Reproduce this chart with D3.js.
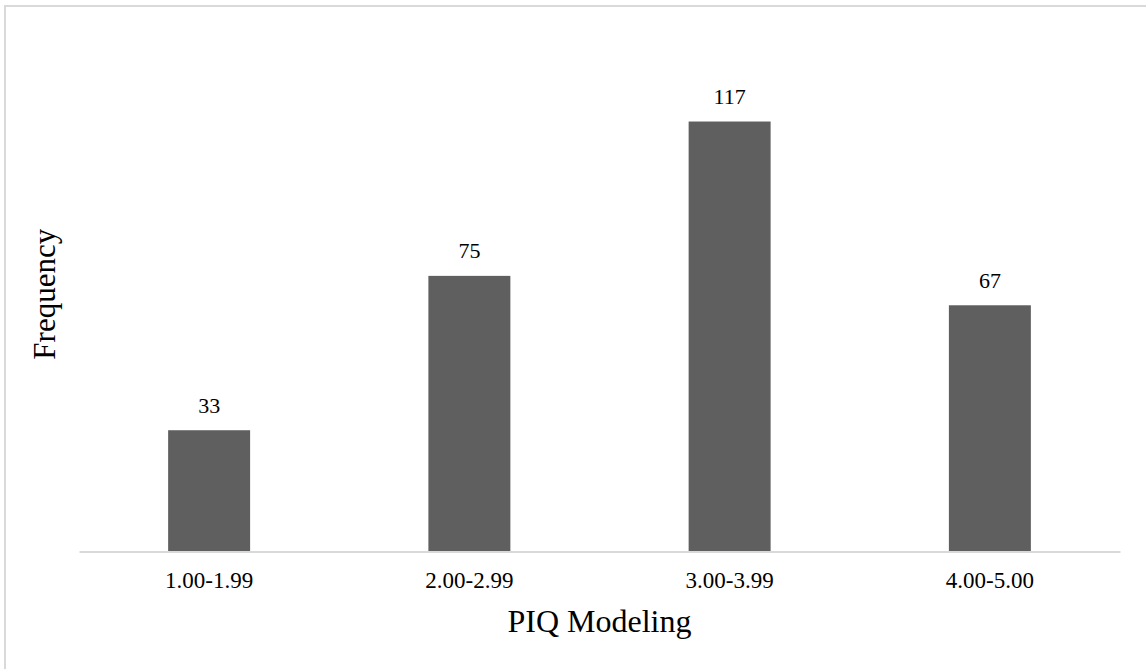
<!DOCTYPE html>
<html>
<head>
<meta charset="utf-8">
<script src="https://cdn.jsdelivr.net/npm/d3@7"></script>
<style>
  html, body { margin: 0; padding: 0; background: #fff; }
  svg { display: block; }
  text { font-family: "Liberation Serif", "Times New Roman", serif; fill: #000; }
</style>
</head>
<body>
<svg id="chart" width="1146" height="669"></svg>
<script>
// Frequency of PIQ Modeling scores by range
const categories = ["1.00-1.99", "2.00-2.99", "3.00-3.99", "4.00-5.00"];
const frequencies = [33, 75, 117, 67];
const xTitle = "PIQ Modeling";
const yTitle = "Frequency";

const W = 1146, H = 669;
const plot = { left: 79, right: 1120, top: 37, bottom: 551.5 };

const svg = d3.select("#chart");

// Outer frame of the chart area
svg.append("rect")
  .attr("x", 5).attr("y", 6)
  .attr("width", W + 10).attr("height", H + 10)
  .attr("fill", "#fff")
  .attr("stroke", "#d9d9d9")
  .attr("stroke-width", 2);

const x = d3.scaleBand()
  .domain(categories)
  .range([plot.left, plot.right])
  .paddingInner(0.685)
  .paddingOuter(0.3425);

const y = d3.scaleLinear()
  .domain([0, 140])
  .range([plot.bottom, plot.top]);

// Bars
svg.append("g").selectAll("rect")
  .data(categories)
  .join("rect")
  .attr("x", d => x(d))
  .attr("y", (d, i) => y(frequencies[i]))
  .attr("width", x.bandwidth())
  .attr("height", (d, i) => y(0) - y(frequencies[i]))
  .attr("fill", "#5f5f5f");

// Value labels above bars
svg.append("g").selectAll("text")
  .data(categories)
  .join("text")
  .attr("x", d => x(d) + x.bandwidth() / 2)
  .attr("y", (d, i) => y(frequencies[i]) - 17.5)
  .attr("text-anchor", "middle")
  .style("font-size", "22px")
  .text((d, i) => frequencies[i]);

// Category axis
const xAxis = svg.append("g")
  .attr("transform", `translate(0,${plot.bottom})`)
  .call(d3.axisBottom(x).tickSize(0).tickPadding(20).tickSizeOuter(0));
xAxis.select(".domain").attr("stroke", "#d9d9d9").attr("stroke-width", 2);
xAxis.selectAll("text")
  .style("font-family", '"Liberation Serif", "Times New Roman", serif')
  .style("font-size", "23px")
  .attr("fill", "#000");

// Axis titles
svg.append("text")
  .attr("x", (plot.left + plot.right) / 2)
  .attr("y", 632)
  .attr("text-anchor", "middle")
  .style("font-size", "32px")
  .text(xTitle);

svg.append("text")
  .attr("transform", `translate(55,${(plot.top + plot.bottom) / 2}) rotate(-90)`)
  .attr("text-anchor", "middle")
  .style("font-size", "31px")
  .text(yTitle);
</script>
</body>
</html>
